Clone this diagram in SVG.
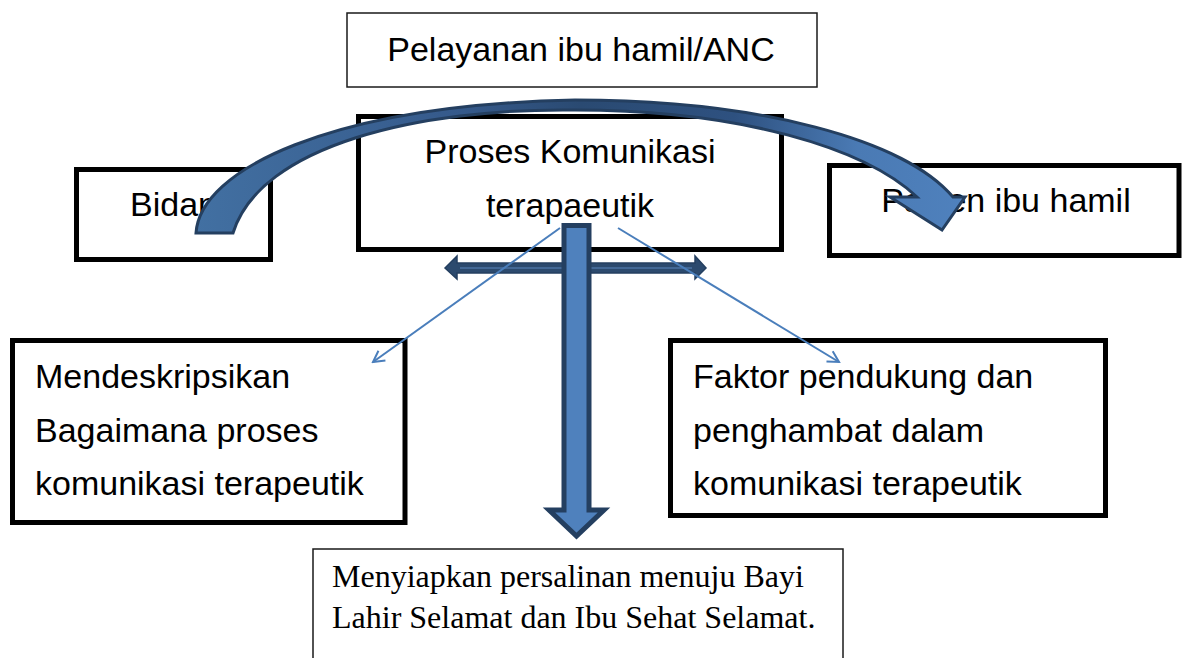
<svg xmlns="http://www.w3.org/2000/svg" width="1184" height="658" viewBox="0 0 1184 658">
<style>
.box{fill:#fff;stroke:#000;stroke-width:5}
.thin{fill:#fff;stroke:#1a1a1a;stroke-width:1.5}
.t{font-family:"Liberation Sans",Arial,sans-serif;font-size:34px;fill:#000}
.s{font-family:"Liberation Serif","Times New Roman",serif;font-size:32px;fill:#000}
.ln{fill:none;stroke:#4a7ebb;stroke-width:2}
</style>
<defs>
<marker id="open" markerWidth="14" markerHeight="14" refX="12" refY="7" orient="auto" markerUnits="userSpaceOnUse">
<path d="M1,1 L12,7 L1,13" fill="none" stroke="#4a7ebb" stroke-width="2"/>
</marker>
<linearGradient id="arc" gradientUnits="userSpaceOnUse" x1="196" y1="0" x2="965" y2="0">
<stop offset="0" stop-color="#4270a2"/>
<stop offset="0.35" stop-color="#35598a"/>
<stop offset="0.5" stop-color="#2a4a72"/>
<stop offset="0.7" stop-color="#2e5180"/>
<stop offset="0.86" stop-color="#4a7ab4"/>
<stop offset="1" stop-color="#4f81bd"/>
</linearGradient>
</defs>
<rect width="1184" height="658" fill="#fff"/>

<g id="node-anc">
<rect class="thin" x="347" y="13" width="470" height="74"/>
<text class="t" x="581" y="61" text-anchor="middle">Pelayanan ibu hamil/ANC</text>
</g>
<g id="node-bidan">
<rect class="box" x="76.5" y="169.5" width="194" height="90"/>
<text class="t" x="173.5" y="216" text-anchor="middle">Bidan</text>
</g>
<g id="node-proses">
<rect class="box" x="358.5" y="116.5" width="423" height="133"/>
<text class="t" x="570" y="163" text-anchor="middle">Proses Komunikasi</text>
<text class="t" x="570" y="217" text-anchor="middle">terapaeutik</text>
</g>
<g id="node-pasien">
<rect class="box" x="829.5" y="165.5" width="349.5" height="90"/>
<text class="t" x="1006" y="212" text-anchor="middle">Pasien ibu hamil</text>
</g>
<g id="node-deskripsi">
<rect class="box" x="12.5" y="340.5" width="392.5" height="182"/>
<text class="t" x="35" y="388">Mendeskripsikan</text>
<text class="t" x="35" y="442">Bagaimana proses</text>
<text class="t" x="35" y="495">komunikasi terapeutik</text>
</g>
<g id="node-faktor">
<rect class="box" x="670.5" y="340.5" width="435" height="175"/>
<text class="t" x="693" y="388">Faktor pendukung dan</text>
<text class="t" x="693" y="442">penghambat dalam</text>
<text class="t" x="693" y="495">komunikasi terapeutik</text>
</g>
<g id="node-hasil">
<rect class="thin" x="313" y="549" width="530" height="120"/>
<text class="s" x="332" y="587">Menyiapkan persalinan menuju Bayi</text>
<text class="s" x="332" y="628">Lahir Selamat dan Ibu Sehat Selamat.</text>
</g>

<g id="connectors">
<path d="M445,268 L457,256 L457,263 L695,263 L695,256 L706,268 L695,279 L695,273 L457,273 L457,279 Z" fill="#2c4a6e" stroke="#243f60" stroke-width="1.5"/>
<line x1="460" y1="268" x2="692" y2="268" stroke="#5a86bd" stroke-width="1"/>
<line class="ln" x1="560" y1="228" x2="373" y2="362" marker-end="url(#open)"/>
<line class="ln" x1="618" y1="228" x2="839" y2="362" marker-end="url(#open)"/>
<path d="M564,225.5 L589,225.5 L589,510 L604,510 L576.5,536 L549,510 L564,510 Z" fill="#4f81bd" stroke="#243f60" stroke-width="5" stroke-linejoin="miter"/>
<path d="M196,233 C200,170 330,105 575,100 C760,100 905,140 953,197 L965,197 L942,230 L890,197 L917,197 C865,148 740,110 575,110 C420,108 260,145 233,233 Z" fill="url(#arc)" stroke="#243f60" stroke-width="3" stroke-linejoin="miter"/>
</g>
</svg>
